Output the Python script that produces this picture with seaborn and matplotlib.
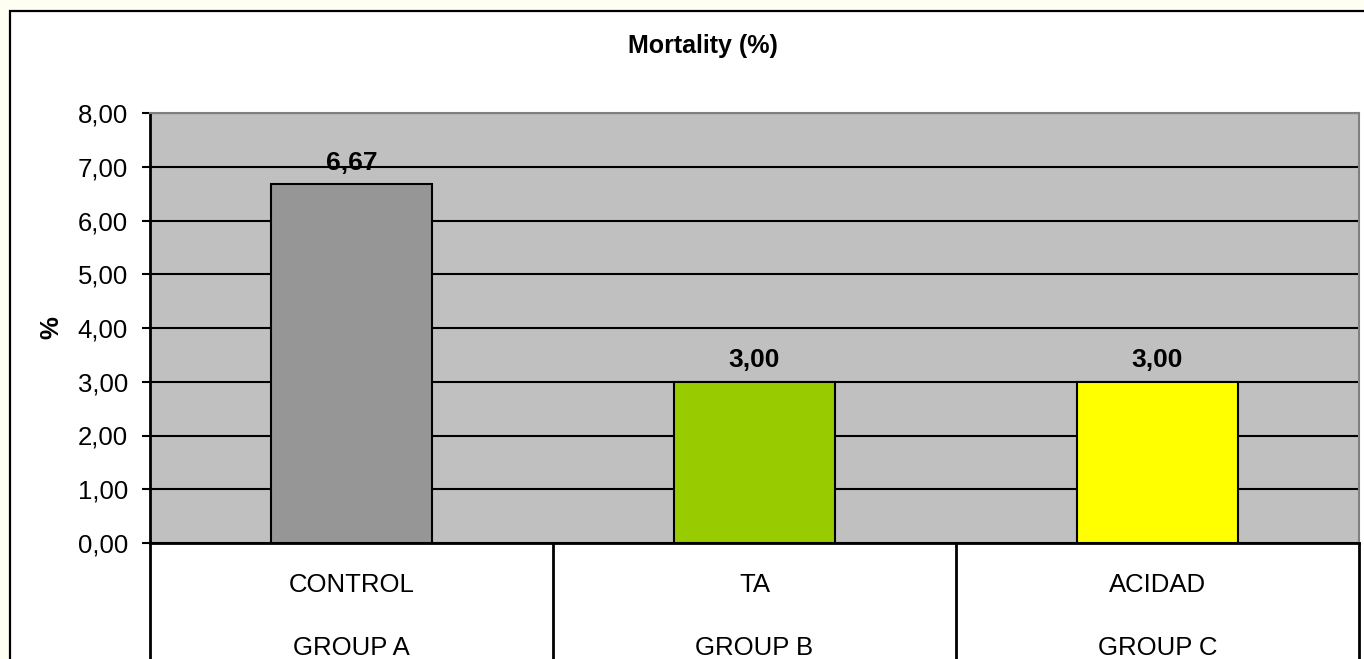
import matplotlib
matplotlib.use("Agg")
import matplotlib.pyplot as plt
from matplotlib.patches import Rectangle
from matplotlib.transforms import blended_transform_factory
import seaborn as sns
import pandas as pd

# Chart data
treatments = ["CONTROL", "TA", "ACIDAD"]
groups = ["GROUP A", "GROUP B", "GROUP C"]
mortality = [6.67, 3.00, 3.00]
bar_colors = ["#969696", "#99CC00", "#FFFF00"]
y_ticks = [0, 1, 2, 3, 4, 5, 6, 7, 8]

sns.set_theme(style="white")
plt.rcParams["font.family"] = ["Liberation Sans", "DejaVu Sans"]
plt.rcParams["text.color"] = "black"
plt.rcParams["axes.labelcolor"] = "black"
plt.rcParams["ytick.color"] = "black"

df = pd.DataFrame({"treatment": treatments, "mortality": mortality})

fig = plt.figure(figsize=(13.64, 6.59), dpi=100)
fig.patch.set_facecolor("#FFFEF2")

# White chart frame
frame = Rectangle((10 / 1364, -0.1), 1.2, 1.1 - 11 / 659,
                  transform=fig.transFigure, facecolor="white",
                  edgecolor="black", linewidth=1.6, zorder=0)
fig.add_artist(frame)

ax = fig.add_axes([150 / 1364, 1 - 543 / 659, (1359 - 150) / 1364, (543 - 113) / 659])
ax.set_facecolor("#C0C0C0")

sns.barplot(data=df, x="treatment", y="mortality", hue="treatment",
            palette=bar_colors, saturation=1, edgecolor="black", linewidth=1.5,
            width=0.4, legend=False, ax=ax, zorder=3)

ax.set_ylim(0, 8)
ax.set_xlim(-0.5, 2.5)
ax.set_yticks(y_ticks)
ax.set_yticklabels([f"{v:.2f}".replace(".", ",") for v in y_ticks], fontsize=18.5)
ax.yaxis.grid(True, color="black", linewidth=1.5, zorder=1)
ax.set_axisbelow(True)
ax.tick_params(axis="y", direction="out", length=6, width=1.5, color="black",
               left=True, pad=10)
ax.set_xticks([])
ax.set_xlabel("")
ax.set_ylabel("%", fontsize=18.5, fontweight="bold")
ax.yaxis.set_label_coords((63 - 150) / 1209, 0.5)

for side in ["left", "bottom"]:
    ax.spines[side].set_color("black")
    ax.spines[side].set_linewidth(2)
for side in ["top", "right"]:
    ax.spines[side].set_color("#808080")
    ax.spines[side].set_linewidth(1.5)

# Value labels
for i, v in enumerate(mortality):
    ax.text(i, v + 0.18, f"{v:.2f}".replace(".", ","), ha="center", va="bottom",
            fontsize=19, fontweight="bold")

# Two-level category labels with separators
trans = blended_transform_factory(ax.transData, ax.transAxes)
for i, (t, g) in enumerate(zip(treatments, groups)):
    ax.text(i, -0.098, t, transform=trans, ha="center", va="center", fontsize=18.5)
    ax.text(i, -0.245, g, transform=trans, ha="center", va="center", fontsize=18.5)
for xb in [-0.5, 0.5, 1.5, 2.5]:
    ax.plot([xb, xb], [0, -0.4], transform=trans, color="black", linewidth=2,
            clip_on=False)

fig.text(703 / 1364, 1 - 46 / 659, "Mortality (%)", ha="center",
         va="center", fontsize=18, fontweight="bold")

fig.savefig("out.png", dpi=100, facecolor=fig.get_facecolor())
